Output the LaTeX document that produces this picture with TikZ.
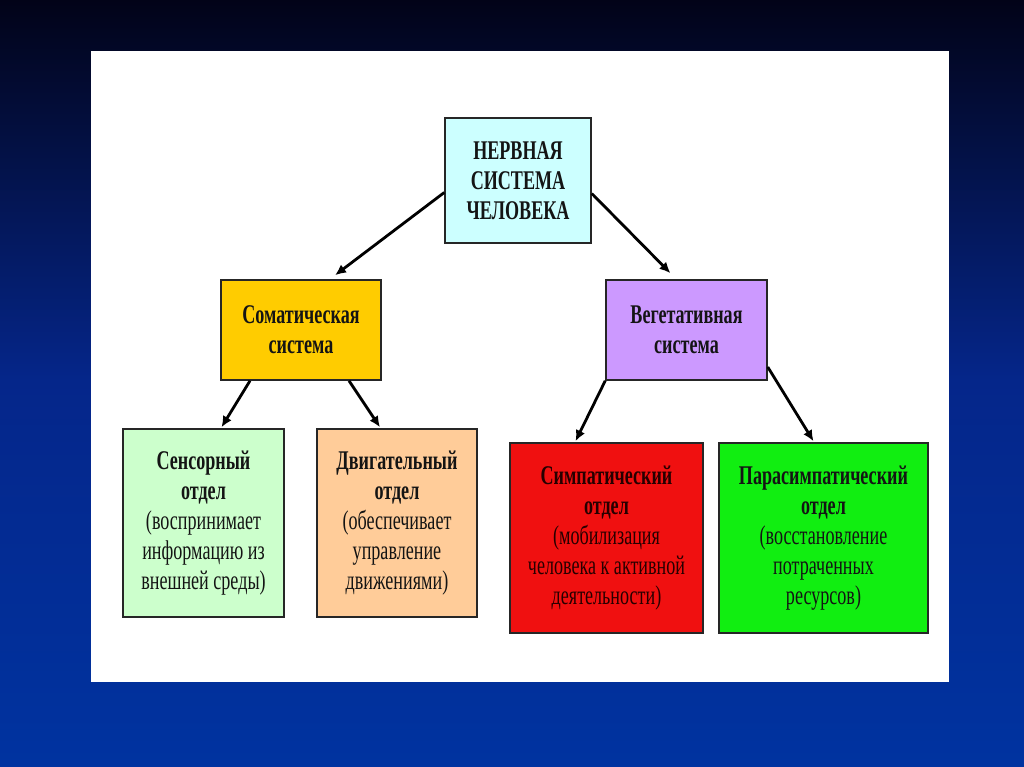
\documentclass[tikz,border=0pt]{standalone}
\usepackage{fontspec}
\newfontfamily\cond{Liberation Serif}[FakeStretch=0.67]
\usetikzlibrary{arrows.meta,calc}
\definecolor{bgtop}{HTML}{020318}
\definecolor{bgmid}{HTML}{05268A}
\definecolor{bgbot}{HTML}{0033A0}
\definecolor{cTop}{HTML}{CCFFFF}
\definecolor{cSoma}{HTML}{FFCC00}
\definecolor{cVeg}{HTML}{CC99FF}
\definecolor{cSens}{HTML}{CCFFCC}
\definecolor{cMot}{HTML}{FFCC99}
\definecolor{cSym}{HTML}{F01010}
\definecolor{cPara}{HTML}{11EE11}
\definecolor{txt}{HTML}{141414}
\begin{document}
\begin{tikzpicture}[x=1pt,y=-1pt,
  box/.style={draw=black!85, line width=1.5pt, inner sep=0pt, align=center,
    text=txt, font=\cond\fontsize{27}{30}\selectfont},
  conn/.style={line width=2.8pt, draw=black, -{Latex[length=11pt,width=10pt]}}]
\useasboundingbox (0,0) rectangle (1024,767);
\shade[top color=bgtop, bottom color=bgmid] (0,0) rectangle (1024,380);
\shade[top color=bgmid, bottom color=bgbot] (0,380) rectangle (1024,767);
\fill[white] (91,51) rectangle (949,682);

\node[box, fill=cTop, minimum width=146pt, minimum height=125pt] (top) at (518,180.5)
  {\bfseries НЕРВНАЯ\\\bfseries СИСТЕМА\\\bfseries ЧЕЛОВЕКА};
\node[box, fill=cSoma, minimum width=160pt, minimum height=100pt] (soma) at (301,330)
  {\bfseries Соматическая\\\bfseries система};
\node[box, fill=cVeg, minimum width=161pt, minimum height=100pt] (veg) at (686.5,330)
  {\bfseries Вегетативная\\\bfseries система};
\node[box, fill=cSens, minimum width=161pt, minimum height=188pt] (sens) at (203.5,523)
  {\bfseries Сенсорный\\\bfseries отдел\\(воспринимает\\информацию из\\внешней среды)};
\node[box, fill=cMot, minimum width=160pt, minimum height=188pt] (mot) at (397,523)
  {\bfseries Двигательный\\\bfseries отдел\\(обеспечивает\\управление\\движениями)};
\node[box, fill=cSym, minimum width=193pt, minimum height=190pt, text=black!85!red] (sym) at (606.5,538)
  {\bfseries Симпатический\\\bfseries отдел\\(мобилизация\\человека к активной\\деятельности)};
\node[box, fill=cPara, minimum width=209pt, minimum height=190pt] (para) at (823.5,538)
  {\bfseries Парасимпатический\\\bfseries отдел\\(восстановление\\потраченных\\ресурсов)};

\draw[conn] ([yshift=-12pt]top.west) -- ([xshift=34pt,yshift=4pt]soma.north);
\draw[conn] ([yshift=-13pt]top.east) -- ([xshift=-16pt,yshift=6pt]veg.north);
\draw[conn] ([xshift=-51pt]soma.south) -- ([xshift=18pt,yshift=1pt]sens.north);
\draw[conn] ([xshift=48pt]soma.south) -- ([xshift=-17pt,yshift=1pt]mot.north);
\draw[conn] (veg.south west) -- ([xshift=-31pt,yshift=1pt]sym.north);
\draw[conn] ([yshift=-37pt]veg.east) -- ([xshift=-10pt,yshift=1pt]para.north);
\end{tikzpicture}
\end{document}
